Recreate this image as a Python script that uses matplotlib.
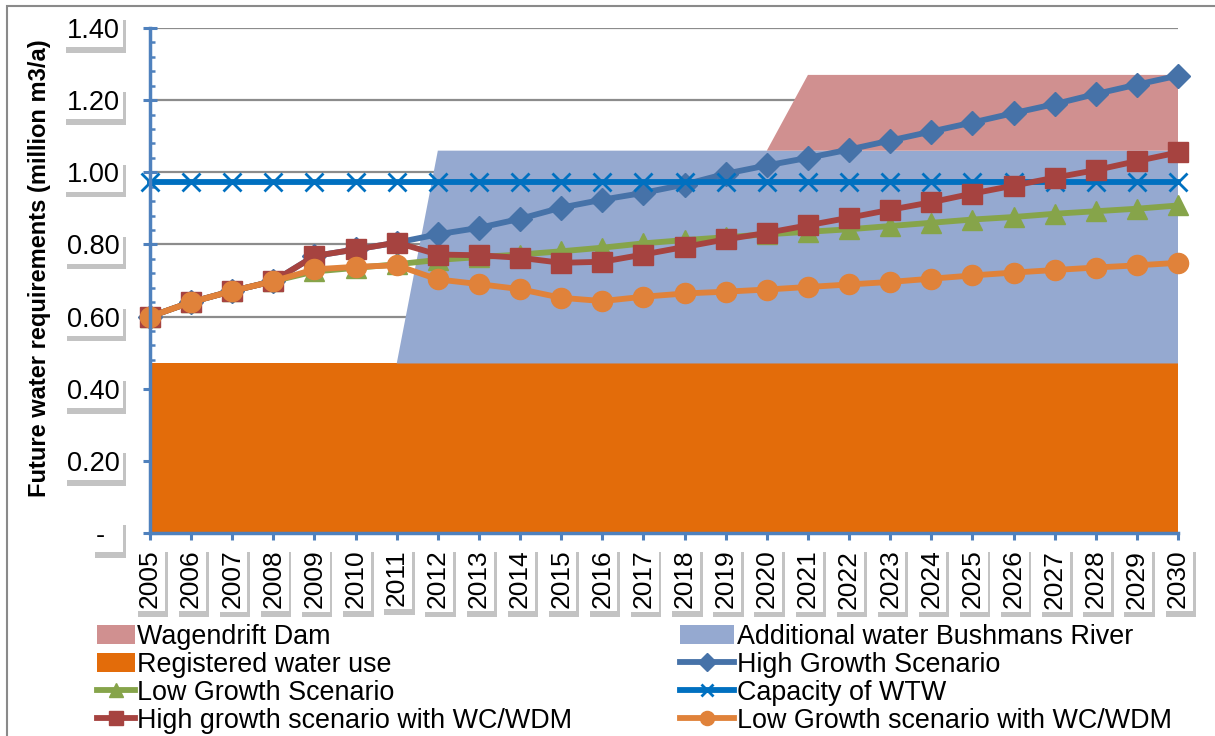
import numpy as np
import matplotlib
matplotlib.use('Agg')
import matplotlib.pyplot as plt
import matplotlib.patheffects as pe
from matplotlib.patches import Rectangle
from matplotlib.ticker import MultipleLocator

plt.rcParams['font.family'] = ['Liberation Sans', 'DejaVu Sans']

years = list(range(2005, 2031))
year_labels = [str(y) for y in years]

# stacked supply areas (million m3/a)
registered = [0.47, 0.47, 0.47, 0.47, 0.47, 0.47, 0.47, 0.47, 0.47, 0.47, 0.47, 0.47, 0.47,
              0.47, 0.47, 0.47, 0.47, 0.47, 0.47, 0.47, 0.47, 0.47, 0.47, 0.47, 0.47, 0.47]
additional = [0, 0, 0, 0, 0, 0, 0, 0.59, 0.59, 0.59, 0.59, 0.59, 0.59,
              0.59, 0.59, 0.59, 0.59, 0.59, 0.59, 0.59, 0.59, 0.59, 0.59, 0.59, 0.59, 0.59]
wagendrift = [0, 0, 0, 0, 0, 0, 0, 0, 0, 0, 0, 0, 0,
              0, 0, 0, 0.21, 0.21, 0.21, 0.21, 0.21, 0.21, 0.21, 0.21, 0.21, 0.21]

# demand scenarios
high_growth = [0.600, 0.640, 0.671, 0.698, 0.768, 0.786, 0.805, 0.828, 0.846, 0.871, 0.902, 0.924, 0.943,
               0.966, 0.996, 1.019, 1.040, 1.063, 1.088, 1.113, 1.138, 1.164, 1.189, 1.217, 1.243, 1.268]
low_growth = [0.600, 0.640, 0.671, 0.698, 0.725, 0.735, 0.745, 0.757, 0.765, 0.772, 0.781, 0.791, 0.803,
              0.812, 0.820, 0.828, 0.835, 0.842, 0.851, 0.860, 0.869, 0.876, 0.885, 0.892, 0.899, 0.908]
capacity = [0.972, 0.972, 0.972, 0.972, 0.972, 0.972, 0.972, 0.972, 0.972, 0.972, 0.972, 0.972, 0.972,
            0.972, 0.972, 0.972, 0.972, 0.972, 0.972, 0.972, 0.972, 0.972, 0.972, 0.972, 0.972, 0.972]
high_wc = [0.600, 0.640, 0.671, 0.698, 0.768, 0.786, 0.805, 0.772, 0.770, 0.763, 0.749, 0.752, 0.772,
           0.793, 0.814, 0.832, 0.853, 0.874, 0.896, 0.917, 0.941, 0.963, 0.985, 1.006, 1.031, 1.055]
low_wc = [0.600, 0.640, 0.671, 0.698, 0.731, 0.738, 0.742, 0.703, 0.690, 0.676, 0.652, 0.643, 0.655,
          0.664, 0.669, 0.675, 0.682, 0.689, 0.696, 0.705, 0.714, 0.722, 0.729, 0.736, 0.742, 0.749]

y_ticks = [0, 0.2, 0.4, 0.6, 0.8, 1.0, 1.2, 1.4]
y_labels = ['-  ', '0.20', '0.40', '0.60', '0.80', '1.00', '1.20', '1.40']

W, H = 1215, 736
fig = plt.figure(figsize=(W / 100, H / 100), dpi=100)
ax = fig.add_axes([150 / W, 1 - 533 / H, (1178 - 150) / W, (533 - 28) / H])

axis_col = '#4F81BD'

areas = ax.stackplot(years, registered, additional, wagendrift,
                     colors=['#E36C0A', '#95A9D0', '#D09090'], zorder=1)

lw = 4.2
l_high, = ax.plot(years, high_growth, color='#4672A8', lw=lw, marker='D', ms=12.5,
                  clip_on=False, zorder=3)
l_low, = ax.plot(years, low_growth, color='#86A44A', lw=lw, marker='^', ms=14,
                 clip_on=False, zorder=4)
l_cap, = ax.plot(years, capacity, color='#0070C0', lw=lw, marker='x', ms=13, mew=2,
                 clip_on=False, zorder=5)
l_hwc, = ax.plot(years, high_wc, color='#A64340', lw=lw, marker='s', ms=14.5,
                 clip_on=False, zorder=6)
l_lwc, = ax.plot(years, low_wc, color='#E0823A', lw=lw, marker='o', ms=14.5,
                 clip_on=False, zorder=7)

ax.set_xlim(2005, 2030)
ax.set_ylim(0, 1.4)

ax.set_axisbelow(True)
ax.yaxis.grid(True, color='#8c8c8c', lw=1.6)
for s in ['top', 'right']:
    ax.spines[s].set_visible(False)
for s in ['left', 'bottom']:
    ax.spines[s].set_color(axis_col)
    ax.spines[s].set_linewidth(2.5)
    ax.spines[s].set_zorder(8)

ax.set_yticks(y_ticks, y_labels)
ax.yaxis.set_minor_locator(MultipleLocator(0.04))
ax.tick_params(axis='y', which='major', direction='inout', length=9.5, width=2.2,
               color=axis_col, pad=17, labelsize=19.5)
ax.tick_params(axis='y', which='minor', direction='in', length=3.5, width=1.8, color=axis_col)

ax.set_xticks(years, year_labels, rotation=90)
ax.set_xticks([y + 0.5 for y in years[:-1]], minor=True)
ax.tick_params(axis='x', which='major', direction='out', length=5, width=2.2,
               color=axis_col, pad=7, labelsize=19)
ax.tick_params(axis='x', which='minor', direction='in', length=3.5, width=1.8, color=axis_col)

shadow = [pe.withSimplePatchShadow(offset=(2, -4), shadow_rgbFace='#555555', alpha=0.35)]
for lab in ax.get_yticklabels() + ax.get_xticklabels():
    lab.set_bbox(dict(boxstyle='square,pad=0.12', fc='white', ec='none'))
    lab.get_bbox_patch().set_path_effects(shadow)

fig.text(40 / W, 1 - 268 / H, 'Future water requirements (million m3/a)', rotation=90,
         ha='center', va='center', fontsize=17, fontweight='bold')

# figure border
fig.add_artist(Rectangle((7 / W, -0.1), 1.2, 1 - 6 / H + 0.1, transform=fig.transFigure,
                         fill=False, ec='#8a8a8a', lw=1.5))

leg_kw = dict(loc='upper left', frameon=False, fontsize=19.4, borderpad=0, borderaxespad=0,
              labelspacing=0.07, handletextpad=0.1, markerscale=0.7)
fig.legend([areas[2], areas[0], l_low, l_hwc],
           ['Wagendrift Dam', 'Registered water use', 'Low Growth Scenario',
            'High growth scenario with WC/WDM'],
           bbox_to_anchor=(97 / W, 1 - 624 / H), handlelength=1.4, **leg_kw)
fig.legend([areas[1], l_high, l_cap, l_lwc],
           ['Additional water Bushmans River', 'High Growth Scenario', 'Capacity of WTW',
            'Low Growth scenario with WC/WDM'],
           bbox_to_anchor=(680 / W, 1 - 624 / H), handlelength=2.0, **leg_kw)

fig.savefig('out.png', dpi=100)
